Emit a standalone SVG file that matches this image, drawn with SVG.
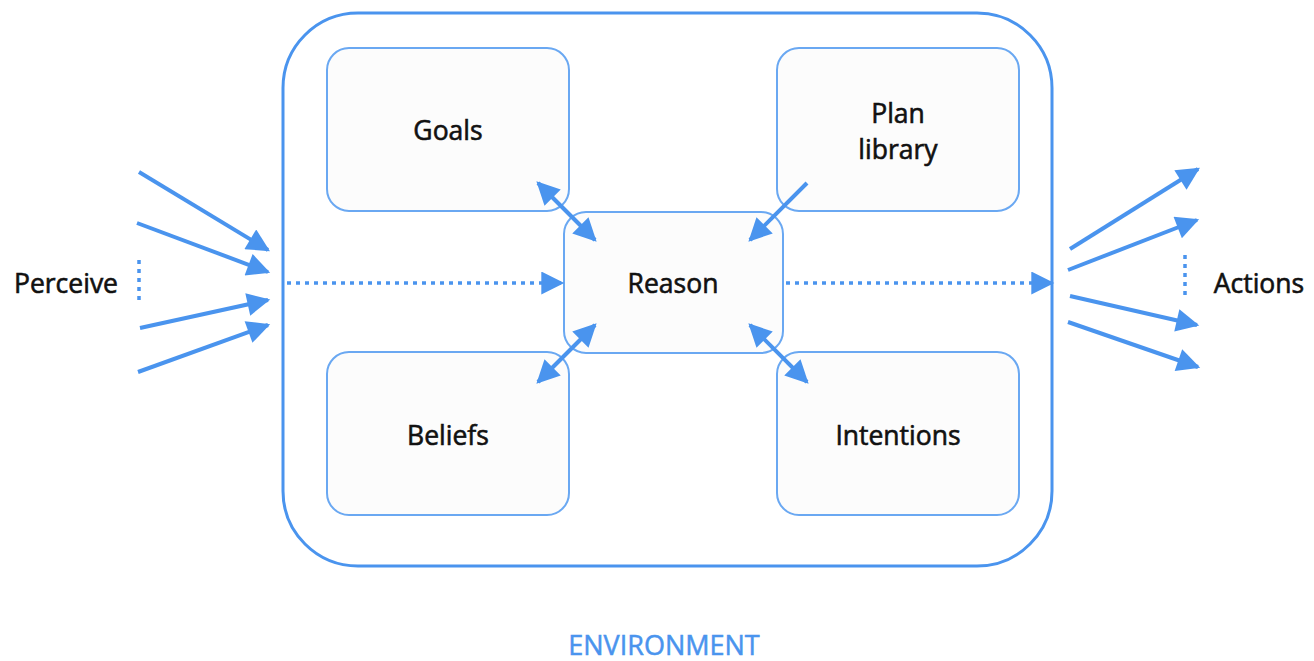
<svg xmlns="http://www.w3.org/2000/svg" width="1314" height="661" viewBox="0 0 1314 661">
<defs>
<style>
.box{fill:#fcfcfc;stroke:#6aa8f2;stroke-width:2}
.lbl{font-family:"Open Sans","Noto Sans",sans-serif;font-size:26.5px;font-weight:400;fill:#111;stroke:#111;stroke-width:0.6;text-anchor:middle}
.ln{stroke:#4a94ee;stroke-width:4;fill:none}
.dot{stroke:#4a94ee;stroke-width:3.5;fill:none;stroke-dasharray:4 5}
</style>
<marker id="ah" viewBox="0 0 10 10" refX="9" refY="5" markerUnits="userSpaceOnUse" markerWidth="27" markerHeight="23" orient="auto-start-reverse">
<path d="M0,0 L10,5 L0,10 Z" fill="#4a94ee"/>
</marker>
</defs>
<rect width="1314" height="661" fill="#ffffff"/>
<g id="environment">
<rect x="283" y="13" width="769" height="553" rx="75" ry="75" fill="none" stroke="#4a94ee" stroke-width="3"/>
<text x="664" y="655" font-family="'Open Sans','Noto Sans',sans-serif" font-size="27" fill="#4a94ee" stroke="#4a94ee" stroke-width="0.5" text-anchor="middle">ENVIRONMENT</text>
</g>
<g id="goals">
<rect class="box" x="327" y="48" width="242" height="163" rx="22"/>
<text class="lbl" x="448" y="140">Goals</text>
</g>
<g id="plan-library">
<rect class="box" x="777" y="48" width="242" height="163" rx="22"/>
<text class="lbl" x="898" y="123">Plan</text>
<text class="lbl" x="898" y="159">library</text>
</g>
<g id="reason">
<rect class="box" x="564" y="212" width="219" height="141" rx="22"/>
<text class="lbl" x="673" y="293">Reason</text>
</g>
<g id="beliefs">
<rect class="box" x="327" y="352" width="242" height="163" rx="22"/>
<text class="lbl" x="448" y="445">Beliefs</text>
</g>
<g id="intentions">
<rect class="box" x="777" y="352" width="242" height="163" rx="22"/>
<text class="lbl" x="898" y="445">Intentions</text>
</g>
<g id="perceive">
<text class="lbl" x="66" y="293">Perceive</text>
</g>
<g id="actions">
<text class="lbl" x="1259" y="293">Actions</text>
</g>
<g id="connectors">
<line class="ln" x1="139" y1="172" x2="268" y2="250" marker-end="url(#ah)"/>
<line class="ln" x1="137" y1="223" x2="268" y2="272" marker-end="url(#ah)"/>
<line class="ln" x1="140" y1="328" x2="268" y2="300" marker-end="url(#ah)"/>
<line class="ln" x1="138" y1="372" x2="268" y2="325" marker-end="url(#ah)"/>
<line class="dot" x1="139" y1="260" x2="139" y2="304"/>
<line class="ln" x1="1070" y1="249" x2="1198" y2="169" marker-end="url(#ah)"/>
<line class="ln" x1="1068" y1="270" x2="1197" y2="220" marker-end="url(#ah)"/>
<line class="ln" x1="1070" y1="296" x2="1197" y2="325" marker-end="url(#ah)"/>
<line class="ln" x1="1068" y1="322" x2="1198" y2="367" marker-end="url(#ah)"/>
<line class="dot" x1="1185" y1="255" x2="1185" y2="298"/>
<line class="dot" x1="287" y1="283" x2="562" y2="283" marker-end="url(#ah)"/>
<line class="dot" x1="786" y1="283" x2="1052" y2="283" marker-end="url(#ah)"/>
<line class="ln" x1="538" y1="183" x2="595" y2="240" marker-start="url(#ah)" marker-end="url(#ah)"/>
<line class="ln" x1="807" y1="183" x2="750" y2="240" marker-end="url(#ah)"/>
<line class="ln" x1="595" y1="325" x2="538" y2="382" marker-start="url(#ah)" marker-end="url(#ah)"/>
<line class="ln" x1="750" y1="325" x2="807" y2="382" marker-start="url(#ah)" marker-end="url(#ah)"/>
</g>
</svg>
